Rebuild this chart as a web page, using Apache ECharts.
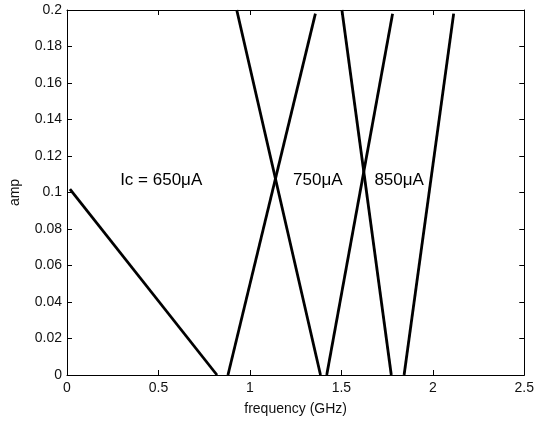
<!DOCTYPE html>
<html>
<head>
<meta charset="utf-8">
<script src="https://cdn.jsdelivr.net/npm/echarts@6/dist/echarts.min.js"></script>
<style>
  html, body { margin: 0; padding: 0; background: #fff; }
  #chart { width: 537px; height: 421px; }
</style>
</head>
<body>
<div id="chart"></div>
<script>
// each segment: [x0, y0, x1, y1]
const segments = [
    [0.016, 0.1018, 0.82, 0],
    [0.88, 0, 1.358, 0.198],
    [0.928, 0.2, 1.386, 0],
    [1.42, 0, 1.78, 0.198],
    [1.503, 0.2, 1.773, 0],
    [1.843, 0, 2.114, 0.198]
];
const labelNames = ['Ic = 650μA', '750μA', '850μA'];
const labelX = [0.515, 1.371, 1.816];
const labelY = [0.1065, 0.1065, 0.1065];

const xTicks = [0, 0.5, 1, 1.5, 2, 2.5];
const yTicks = [0, 0.02, 0.04, 0.06, 0.08, 0.1, 0.12, 0.14, 0.16, 0.18, 0.2];

const chart = echarts.init(document.getElementById('chart'));

const fontFamily = 'Liberation Sans, Arial, sans-serif';
const tickStyle = {show: true, inside: true, length: 5, lineStyle: {color: '#000', width: 1}};

const baseX = {
    type: 'value', min: 0, max: 2.5, interval: 0.5,
    axisLine: {show: true, onZero: false, lineStyle: {color: '#000', width: 1}},
    axisTick: tickStyle,
    splitLine: {show: false}
};
const baseY = {
    type: 'value', min: 0, max: 0.2, interval: 0.02,
    axisLine: {show: true, onZero: false, lineStyle: {color: '#000', width: 1}},
    axisTick: tickStyle,
    splitLine: {show: false}
};

const lineSeries = segments.map(s => ({
    type: 'line',
    data: [[s[0], s[1]], [s[2], s[3]]],
    showSymbol: false,
    silent: true,
    lineStyle: {color: '#000', width: 2.8},
    xAxisIndex: 0,
    yAxisIndex: 0
}));

const options = {
    animation: false,
    grid: {left: 62, right: 11, top: 10, bottom: 43, containLabel: false},
    xAxis: [
        Object.assign({}, baseX, {
            position: 'bottom',
            name: 'frequency (GHz)',
            nameLocation: 'middle',
            nameGap: 27,
            nameTextStyle: {color: '#111', fontSize: 14, fontFamily: fontFamily},
            axisLabel: {
                color: '#111', fontSize: 14, fontFamily: fontFamily, margin: 6,
                formatter: v => xTicks.includes(v) ? String(v) : ''
            }
        }),
        Object.assign({}, baseX, {position: 'top', axisLabel: {show: false}})
    ],
    yAxis: [
        Object.assign({}, baseY, {
            position: 'left',
            name: 'amp',
            nameLocation: 'middle',
            nameGap: 45,
            nameTextStyle: {color: '#111', fontSize: 14, fontFamily: fontFamily},
            axisLabel: {
                color: '#111', fontSize: 14, fontFamily: fontFamily, margin: 5,
                formatter: v => {
                    const t = yTicks.find(k => Math.abs(k - v) < 1e-9);
                    return t === undefined ? '' : String(t);
                }
            }
        }),
        Object.assign({}, baseY, {position: 'right', axisLabel: {show: false}})
    ],
    series: lineSeries.concat([{
        type: 'scatter',
        symbolSize: 0,
        silent: true,
        itemStyle: {opacity: 1},
        data: labelNames.map((n, i) => ({name: n, value: [labelX[i], labelY[i]]})),
        label: {
            show: true,
            position: 'inside',
            formatter: p => p.name,
            color: '#000',
            opacity: 1,
            textBorderWidth: 0,
            fontSize: 17,
            fontFamily: fontFamily
        }
    }])
};

chart.setOption(options);
</script>
</body>
</html>
